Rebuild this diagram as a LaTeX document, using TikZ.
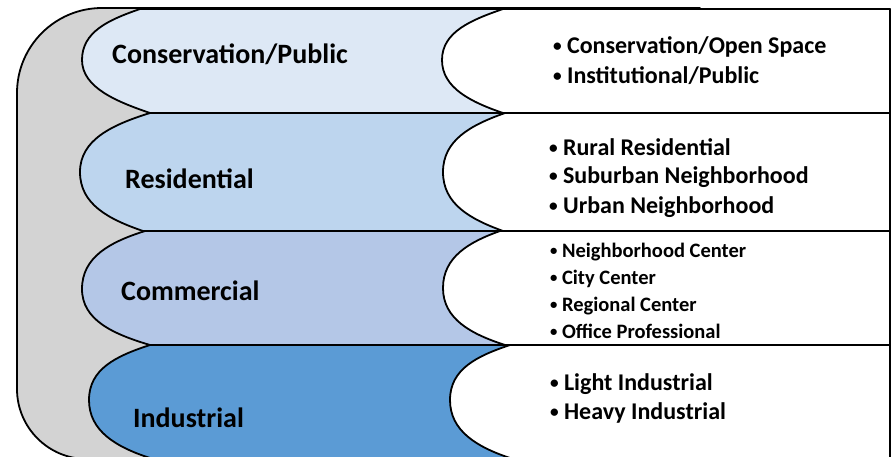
\documentclass[tikz,border=0pt]{standalone}
\usepackage{fontspec}
\usepackage{graphicx}
\setmainfont{Carlito}
\definecolor{bgray}{HTML}{D3D3D3}
\definecolor{cone}{HTML}{DDE8F5}
\definecolor{ctwo}{HTML}{BDD5EE}
\definecolor{cthree}{HTML}{B4C7E7}
\definecolor{cfour}{HTML}{5B9BD5}
\newcommand{\smbul}{\raisebox{0.07em}{\scalebox{0.72}{•}}\hspace{0.22em}}
\begin{document}
\begin{tikzpicture}[x=1pt,y=-1pt,
  band/.style={draw=black, line width=1.8pt, line join=round},
  lbl/.style={anchor=base west, inner sep=0pt, text=black, font=\bfseries\fontsize{28}{34}\selectfont},
  itembig/.style={anchor=base west, inner sep=0pt, text=black, font=\bfseries\fontsize{24}{29}\selectfont},
  itemsmall/.style={anchor=base west, inner sep=0pt, text=black, font=\bfseries\fontsize{20.5}{25}\selectfont}]
\useasboundingbox (0,0) rectangle (891,456);
\clip (0,0) rectangle (891,456);
% gray background
\draw[band, fill=bgray] (102,8) -- (700,8) -- (700,462) -- (87,459) .. controls (48.4,459) and (17,427.6) .. (17,389) -- (17,93) .. controls (17,46.1) and (55.1,8) .. cycle;
% band 1
\draw[band, fill=cone] (140,9) -- (890,9) -- (890,113) -- (150,113) .. controls (118,102) and (82,88) .. (82,60) .. controls (82,32) and (108,20) .. cycle;
\draw[band, fill=white] (503,9) -- (890,9) -- (890,113) -- (503,113) .. controls (471,102) and (442,88) .. (442,60) .. controls (442,32) and (471,20) .. cycle;
% band 2
\draw[band, fill=ctwo] (150,113) -- (890,113) -- (890,231) -- (143,231) .. controls (108,219) and (80,204) .. (80,172) .. controls (80,140) and (111.5,125) .. cycle;
\draw[band, fill=white] (505,113) -- (890,113) -- (890,231) -- (503,231) .. controls (470,219) and (443,204) .. (443,172) .. controls (443,140) and (471,125) .. cycle;
% band 3
\draw[band, fill=cthree] (145,231) -- (890,231) -- (890,345) -- (150,345) .. controls (113,334) and (82,320) .. (82,289) .. controls (82,257) and (110,242) .. cycle;
\draw[band, fill=white] (500,231) -- (890,231) -- (890,345) -- (505,345) .. controls (471,334) and (443,319) .. (443,288) .. controls (443,257) and (469,242) .. cycle;
% band 4
\draw[band, fill=cfour] (150,345) -- (890,345) -- (890,458) -- (150,458) .. controls (116,447) and (89,431) .. (89,400) .. controls (89,369) and (116,356) .. cycle;
\draw[band, fill=white] (510,345) -- (890,345) -- (890,458) -- (510,458) .. controls (477,447) and (450,431) .. (450,400) .. controls (450,369) and (477,356) .. cycle;
% left labels
\node[lbl] (cons) at (112,63) {Conservation/Public};
\node[lbl] (res) at (125,188) {Residential};
\node[lbl] (com) at (121,300) {Commercial};
\node[lbl] (ind) at (133,427) {Industrial};
% right items
\node[itembig] (i1a) at (553,53) {\smbul Conservation/Open Space};
\node[itembig] (i1b) at (553,83) {\smbul Institutional/Public};
\node[itembig] (i2a) at (549,155) {\smbul Rural Residential};
\node[itembig] (i2b) at (549,183) {\smbul Suburban Neighborhood};
\node[itembig] (i2c) at (549,213) {\smbul Urban Neighborhood};
\node[itemsmall] (i3a) at (550,257) {\smbul Neighborhood Center};
\node[itemsmall] (i3b) at (550,284) {\smbul City Center};
\node[itemsmall] (i3c) at (550,311) {\smbul Regional Center};
\node[itemsmall] (i3d) at (550,338) {\smbul Office Professional};
\node[itembig] (i4a) at (550,390) {\smbul Light Industrial};
\node[itembig] (i4b) at (550,419) {\smbul Heavy Industrial};
\end{tikzpicture}
\end{document}
